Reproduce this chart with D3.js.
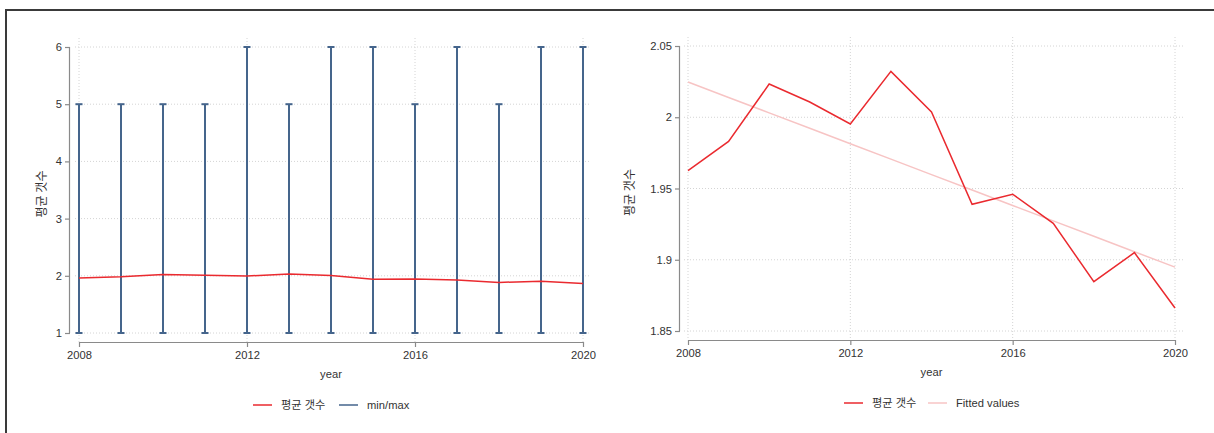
<!DOCTYPE html>
<html>
<head>
<meta charset="utf-8">
<script src="https://cdn.jsdelivr.net/npm/d3@7"></script>
<style>
  html, body { margin: 0; padding: 0; background: #fff; }
  svg { display: block; font-family: "Liberation Sans", Arial, "Noto Sans CJK KR", sans-serif; }
</style>
</head>
<body>
<svg id="chart" width="1214" height="433"></svg>
<script>
// Yearly average count with min/max range
const years = [2008, 2009, 2010, 2011, 2012, 2013, 2014, 2015, 2016, 2017, 2018, 2019, 2020];
const meanCount = [1.9625, 1.983, 2.0233, 2.0107, 1.9953, 2.0322, 2.0037, 1.9389, 1.946, 1.9256, 1.8846, 1.905, 1.8661];
const minCount = [1, 1, 1, 1, 1, 1, 1, 1, 1, 1, 1, 1, 1];
const maxCount = [5, 5, 5, 5, 6, 5, 6, 6, 5, 6, 5, 6, 6];

const xTicks = [2008, 2012, 2016, 2020];
const yTicksLeft = [1, 2, 3, 4, 5, 6];
const yTicksRight = [1.85, 1.9, 1.95, 2, 2.05];
const yTickLabelsRight = ["1.85", "1.9", "1.95", "2", "2.05"];

const yTitle = "평균 갯수";
const xTitle = "year";
const legendLeft = ["평균 갯수", "min/max"];
const legendRight = ["평균 갯수", "Fitted values"];

const RED = "#ea2a2f";
const BLUE = "#45658c";
const PINK = "#f7c4c4";
const AXIS = "#8a8a8a";
const GRID = "#d4d4d4";
const TEXT = "#333";
const FS = 11.2;

// Least-squares line through the yearly means
const mx = d3.mean(years), my = d3.mean(meanCount);
const slope = d3.sum(years, (x, i) => (x - mx) * (meanCount[i] - my)) / d3.sum(years, x => (x - mx) ** 2);
const intercept = my - slope * mx;
const fitted = years.map(x => intercept + slope * x);

const svg = d3.select("#chart");

// outer frame
svg.append("line").attr("x1", 6).attr("x2", 1214).attr("y1", 10).attr("y2", 10)
  .attr("stroke", "#3a3a3a").attr("stroke-width", 2);
svg.append("line").attr("x1", 6).attr("x2", 6).attr("y1", 9).attr("y2", 433)
  .attr("stroke", "#3a3a3a").attr("stroke-width", 2);

function panel(cfg) {
  const g = svg.append("g");
  const x = d3.scaleLinear().domain([2008, 2020]).range([cfg.x0, cfg.x1]);
  const y = d3.scaleLinear().domain(cfg.yDomain).range([cfg.yBottom, cfg.yTop]);

  // grid
  g.append("g").selectAll("line").data(cfg.yTicks).join("line")
    .attr("x1", cfg.gridLeft).attr("x2", cfg.gridRight)
    .attr("y1", d => y(d)).attr("y2", d => y(d))
    .attr("stroke", GRID).attr("stroke-width", 1).attr("stroke-dasharray", "1,2");
  g.append("g").selectAll("line").data(xTicks).join("line")
    .attr("x1", d => x(d)).attr("x2", d => x(d))
    .attr("y1", cfg.gridTop).attr("y2", cfg.xAxisY)
    .attr("stroke", GRID).attr("stroke-width", 1).attr("stroke-dasharray", "1,2");

  // y axis
  const yAxis = d3.axisLeft(y).tickValues(cfg.yTicks).tickSize(5).tickPadding(3)
    .tickFormat((d, i) => cfg.yLabels ? cfg.yLabels[i] : d3.format("")(d));
  const ya = g.append("g").attr("transform", `translate(${cfg.yAxisX},0)`).call(yAxis);
  // x axis
  const xAxis = d3.axisBottom(x).tickValues(xTicks).tickSize(5).tickPadding(4).tickFormat(d3.format("d"));
  const xa = g.append("g").attr("transform", `translate(0,${cfg.xAxisY})`).call(xAxis);
  [ya, xa].forEach(a => {
    a.select(".domain").attr("stroke", AXIS).attr("stroke-width", 1.2);
    a.selectAll(".tick line").attr("stroke", AXIS).attr("stroke-width", 1.2);
    a.selectAll(".tick text").attr("fill", TEXT).attr("font-size", FS);
  });
  ya.select(".domain").attr("d", `M-0.5,${y(cfg.yDomain[0])}V${y(cfg.yDomain[1])}`);
  xa.select(".domain").attr("d", `M${cfg.x0},0.5H${cfg.x1}`);

  // titles
  g.append("text").attr("x", (cfg.x0 + cfg.x1) / 2).attr("y", cfg.xAxisY + 36)
    .attr("text-anchor", "middle").attr("font-size", FS).attr("fill", TEXT).text(xTitle);
  g.append("text")
    .attr("transform", `translate(${cfg.yTitleX},${(cfg.yTop + cfg.yBottom) / 2 + 4}) rotate(-90)`)
    .attr("text-anchor", "middle").attr("font-size", 12).attr("fill", TEXT)
    .attr("font-family", "'Noto Sans CJK KR', sans-serif").text(yTitle);

  return { g, x, y };
}

// ---- left panel: mean with min/max spikes ----
const L = panel({
  x0: 79, x1: 583, yTop: 47, yBottom: 333, yDomain: [1, 6], yTicks: yTicksLeft,
  yAxisX: 70, xAxisY: 342, gridLeft: 75, gridRight: 590, gridTop: 38, yTitleX: 46
});
const spikes = L.g.append("g");
years.forEach((yr, i) => {
  const cx = L.x(yr);
  spikes.append("line").attr("x1", cx).attr("x2", cx)
    .attr("y1", L.y(minCount[i])).attr("y2", L.y(maxCount[i]))
    .attr("stroke", BLUE).attr("stroke-width", 2);
  [minCount[i], maxCount[i]].forEach(v => {
    spikes.append("line").attr("x1", cx - 3.5).attr("x2", cx + 3.5)
      .attr("y1", L.y(v)).attr("y2", L.y(v))
      .attr("stroke", BLUE).attr("stroke-width", 2);
  });
});
L.g.append("path").datum(meanCount)
  .attr("d", d3.line().x((d, i) => L.x(years[i])).y(d => L.y(d)))
  .attr("fill", "none").attr("stroke", RED).attr("stroke-width", 1.5);

// ---- right panel: mean with linear fit ----
const R = panel({
  x0: 688, x1: 1175, yTop: 46, yBottom: 331, yDomain: [1.85, 2.05], yTicks: yTicksRight,
  yLabels: yTickLabelsRight,
  yAxisX: 680, xAxisY: 340, gridLeft: 684, gridRight: 1183, gridTop: 37, yTitleX: 634
});
R.g.append("path").datum(fitted)
  .attr("d", d3.line().x((d, i) => R.x(years[i])).y(d => R.y(d)))
  .attr("fill", "none").attr("stroke", PINK).attr("stroke-width", 1.5);
R.g.append("path").datum(meanCount)
  .attr("d", d3.line().x((d, i) => R.x(years[i])).y(d => R.y(d)))
  .attr("fill", "none").attr("stroke", RED).attr("stroke-width", 1.5);

// ---- legends ----
function legend(items, y) {
  const g = svg.append("g");
  items.forEach(it => {
    g.append("line").attr("x1", it.x).attr("x2", it.x + 19).attr("y1", y).attr("y2", y)
      .attr("stroke", it.color).attr("stroke-width", 1.5);
    g.append("text").attr("x", it.x + 28).attr("y", y + 4).attr("font-size", FS)
      .attr("fill", TEXT).text(it.label);
  });
}
legend([
  { x: 253, color: RED, label: legendLeft[0] },
  { x: 339, color: BLUE, label: legendLeft[1] }
], 405);
legend([
  { x: 844, color: RED, label: legendRight[0] },
  { x: 928, color: PINK, label: legendRight[1] }
], 403);
</script>
</body>
</html>
